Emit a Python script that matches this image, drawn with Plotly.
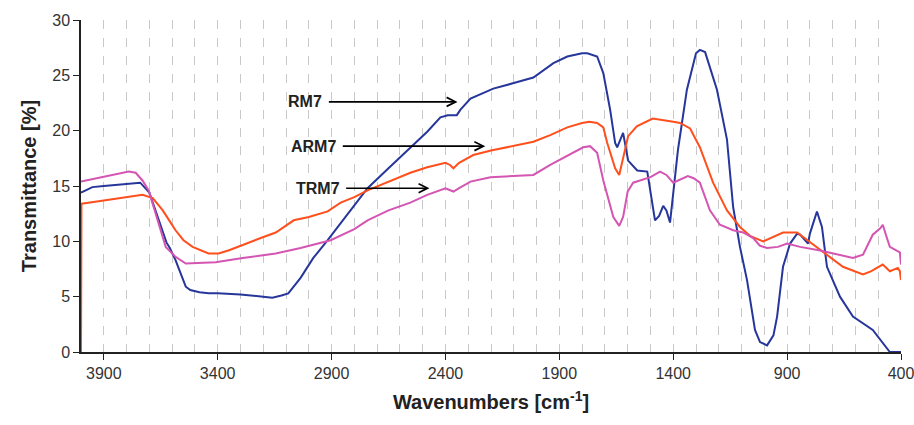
import plotly.graph_objects as go

# RM7 (blue)
rm7_x = [4000, 3950, 3900, 3850, 3800, 3740, 3700, 3660, 3625, 3610, 3585, 3540, 3520, 3480, 3440, 3400,
         3300, 3200, 3160, 3120, 3090, 3036, 2980, 2917, 2850, 2782, 2742, 2650, 2554, 2480, 2422, 2390,
         2350, 2334, 2290, 2190, 2100, 2014, 1926, 1865, 1800, 1777, 1734, 1707, 1677, 1655, 1646, 1620,
         1598, 1558, 1514, 1480, 1462, 1444, 1430, 1414, 1379, 1348, 1340, 1300, 1283, 1260, 1208, 1164,
         1137, 1107, 1076, 1041, 1019, 988, 960, 944, 918, 887, 856, 843, 821, 808, 800, 769, 747, 725,
         668, 611, 524, 502, 449, 400]
rm7_y = [14.4, 14.9, 15.0, 15.1, 15.2, 15.3, 14.4, 11.9, 9.9, 9.4, 8.3, 5.9, 5.6, 5.4, 5.3, 5.3,
         5.2, 5.0, 4.9, 5.1, 5.3, 6.7, 8.5, 10.1, 11.9, 13.7, 14.8, 16.6, 18.5, 19.9, 21.2, 21.4,
         21.4, 21.9, 22.9, 23.8, 24.3, 24.8, 26.1, 26.7, 27.0, 27.0, 26.7, 25.2, 21.9, 18.9, 18.5, 19.8,
         17.3, 16.4, 16.3, 11.9, 12.3, 13.2, 12.8, 11.7, 18.3, 22.8, 23.7, 27.0, 27.3, 27.1, 23.7, 19.2,
         13.1, 9.5, 6.5, 2.0, 0.9, 0.6, 1.5, 3.2, 7.7, 9.8, 10.7, 10.6, 10.1, 9.8, 10.7, 12.7, 11.3, 7.7,
         5.0, 3.2, 2.0, 1.4, 0.0, 0.0]

# ARM7 (orange)
arm7_x = [4000, 3998, 3900, 3800, 3730, 3685, 3641, 3610, 3585, 3550, 3510, 3440, 3396, 3350, 3290, 3211,
          3145, 3066, 3000, 2950, 2917, 2860, 2800, 2742, 2650, 2554, 2480, 2400, 2380, 2365, 2340, 2278,
          2200, 2100, 2014, 1940, 1865, 1800, 1769, 1734, 1707, 1690, 1655, 1637, 1620, 1598, 1560, 1490,
          1400, 1370, 1326, 1283, 1225, 1164, 1107, 1063, 1005, 960, 918, 856, 830, 769, 700, 655, 567,
          530, 506, 480, 449, 414, 405, 400]
arm7_y = [0.0, 13.4, 13.7, 14.0, 14.2, 13.9, 12.8, 11.8, 11.0, 10.1, 9.5, 8.9, 8.9, 9.2, 9.7, 10.3,
          10.8, 11.9, 12.2, 12.5, 12.7, 13.5, 14.0, 14.6, 15.4, 16.2, 16.7, 17.1, 16.9, 16.6, 17.1, 17.8,
          18.2, 18.6, 19.0, 19.6, 20.3, 20.7, 20.8, 20.7, 20.3, 18.9, 16.6, 16.0, 17.5, 19.5, 20.4, 21.1,
          20.8, 20.7, 20.2, 18.5, 15.3, 12.8, 11.3, 10.5, 10.0, 10.4, 10.8, 10.8, 10.4, 9.4, 8.4, 7.7, 7.0,
          7.3, 7.6, 7.9, 7.3, 7.6, 7.3, 6.5]

# TRM7 (pink)
trm7_x = [4000, 3900, 3790, 3760, 3730, 3703, 3663, 3628, 3585, 3540, 3409, 3290, 3145, 3036, 2904, 2800,
          2742, 2650, 2554, 2480, 2400, 2380, 2365, 2340, 2290, 2202, 2100, 2014, 1940, 1860, 1795, 1765,
          1734, 1707, 1663, 1637, 1620, 1600, 1576, 1546, 1500, 1458, 1430, 1400, 1370, 1336, 1310, 1283,
          1239, 1195, 1137, 1093, 1049, 1019, 988, 940, 900, 843, 760, 699, 611, 567, 524, 490, 480, 465,
          449, 405, 400]
trm7_y = [15.4, 15.8, 16.3, 16.2, 15.5, 14.6, 11.9, 9.5, 8.6, 8.0, 8.1, 8.5, 8.9, 9.4, 10.1, 11.1,
          11.9, 12.8, 13.5, 14.2, 14.8, 14.6, 14.5, 14.8, 15.4, 15.8, 15.9, 16.0, 16.9, 17.8, 18.5, 18.6,
          18.0, 15.5, 12.2, 11.4, 12.2, 14.5, 15.3, 15.5, 15.8, 16.3, 16.0, 15.3, 15.6, 15.9, 15.7, 15.3,
          12.8, 11.5, 11.0, 10.8, 10.3, 9.6, 9.4, 9.5, 9.8, 9.5, 9.2, 8.9, 8.5, 8.8, 10.6, 11.2, 11.5, 10.5,
          9.5, 9.0, 7.9]

x_ticks = [3900, 3400, 2900, 2400, 1900, 1400, 900, 400]

labels = ["RM7", "ARM7", "TRM7"]
label_pos = [(3015, 22.6), (2978, 18.6), (2961, 14.8)]
arrow_head = [(2347, 22.6), (2225, 18.6), (2470, 14.8)]

colors = ["#26369A", "#FF4F1C", "#D455B2"]
FONT = "Liberation Sans, Arial, sans-serif"

fig = go.Figure()
for xs, ys, name, c in zip([rm7_x, arm7_x, trm7_x], [rm7_y, arm7_y, trm7_y], labels, colors):
    fig.add_trace(go.Scatter(x=xs, y=ys, mode="lines", name=name,
                             line=dict(color=c, width=2), showlegend=False))

for lab, (tx, ty), (hx, hy) in zip(labels, label_pos, arrow_head):
    fig.add_annotation(x=hx, y=hy, ax=tx, ay=ty, axref="x", ayref="y", xref="x", yref="y",
                       text="<b>%s</b>" % lab, showarrow=True, arrowhead=5, arrowsize=1.1,
                       arrowwidth=1.6, arrowcolor="black", startstandoff=5,
                       font=dict(family=FONT, size=16, color="#222222"))

fig.update_layout(
    width=914, height=425,
    margin=dict(l=81, r=13, t=20, b=73),
    paper_bgcolor="white", plot_bgcolor="white",
    font=dict(family=FONT, size=16, color="#333333"),
    xaxis=dict(range=[4000, 400], tickmode="array", tickvals=x_ticks,
               ticktext=[str(v) for v in x_ticks], ticklabeloverflow="allow", automargin=False,
               showline=True, linecolor="#222222", linewidth=1.5,
               ticks="outside", ticklen=6, tickcolor="#222222",
               showgrid=True, gridcolor="#C8C8C8", griddash="dash", gridwidth=1,
               minor=dict(dtick=100, tick0=400, showgrid=True, gridcolor="#C8C8C8",
                          griddash="dash", gridwidth=1, ticks=""),
               zeroline=False,
               title=dict(text="<b>Wavenumbers [cm<sup>-1</sup>]</b>",
                          font=dict(family=FONT, size=20, color="#222222"), standoff=14)),
    yaxis=dict(range=[0, 30], tickmode="linear", tick0=0, dtick=5, automargin=False,
               showline=True, linecolor="#222222", linewidth=1.5,
               ticks="outside", ticklen=6, tickcolor="#222222",
               showgrid=False, zeroline=False,
               title=dict(text="<b>Transmittance [%]</b>",
                          font=dict(family=FONT, size=20, color="#222222"), standoff=10)),
)

fig.write_html("out.html")
